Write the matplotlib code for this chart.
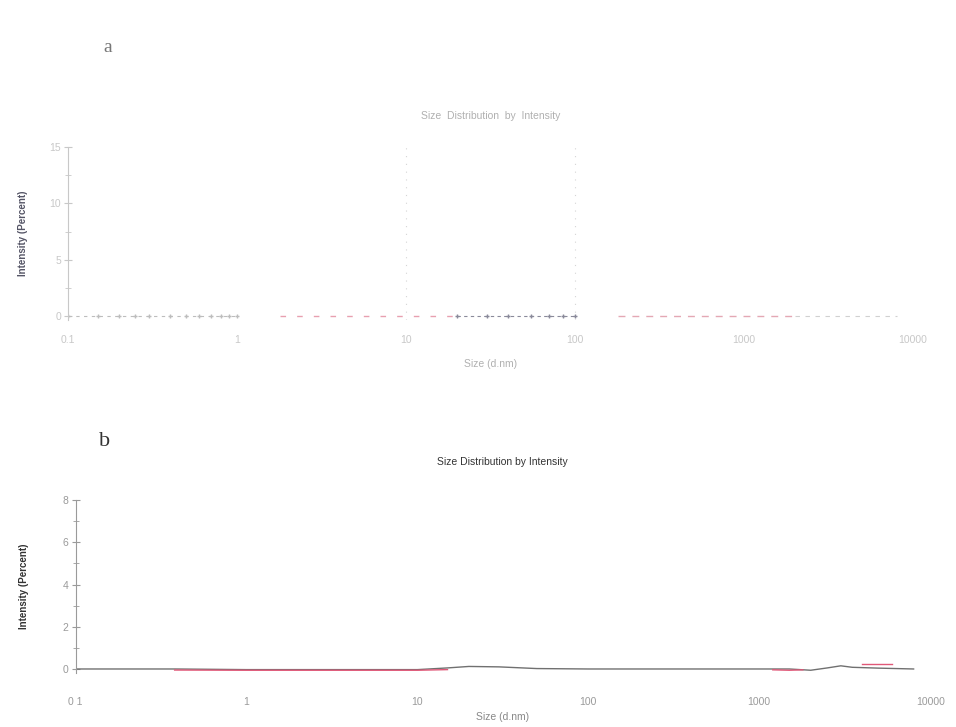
import numpy as np
import matplotlib.pyplot as plt

plt.rcParams['font.family'] = ['Liberation Sans', 'DejaVu Sans']

# panel a: measured runs, all lying on the baseline
a_dark_size = [0.1, 0.15, 0.2, 0.25, 0.3, 0.4, 0.5, 0.6, 0.7, 0.8, 0.9, 1.0]
a_dark_val = [0, 0, 0, 0, 0, 0, 0, 0, 0, 0, 0, 0]
a_red_size = [1.8, 2.5, 3.5, 5, 7, 10, 14, 20]
a_red_val = [0, 0, 0, 0, 0, 0, 0, 0]
a_mid_size = [20, 30, 40, 55, 70, 85, 100]
a_mid_val = [0, 0, 0, 0, 0, 0, 0]
a_red2_size = [180, 300, 500, 800, 1200, 2000]
a_red2_val = [0, 0, 0, 0, 0, 0]
a_gray_size = [2000, 3000, 4000, 5000, 6000, 8000]
a_gray_val = [0, 0, 0, 0, 0, 0]

# panel b
b_dark_size = [0.1, 0.2, 0.3, 0.38, 1, 10, 15, 20, 30, 50, 100, 300, 1000,
               1500, 2000, 2500, 3000, 3500, 5000, 8000]
b_dark_val = [0, 0, 0, 0, -0.03, -0.03, 0.05, 0.12, 0.1, 0.02, 0, 0, 0,
              0, -0.06, 0.05, 0.15, 0.08, 0.04, 0]
b_red_size = [0.38, 1, 5, 10, 15]
b_red_val = [-0.05, -0.06, -0.06, -0.06, -0.03]
b_red2_size = [1200, 1500, 1800]
b_red2_val = [-0.04, -0.06, -0.04]
b_red3_size = [4000, 6000]
b_red3_val = [0.25, 0.25]

xticks = [0.1, 1, 10, 100, 1000, 10000]
a_xlabels = ['0.1', '1', '10', '100', '1000', '10000']
b_xlabels = ['0 1', '1', '10', '100', '1000', '10000']

fig = plt.figure(figsize=(9.56, 7.27), dpi=100)

def style_axes(ax, color, ymax, ymajor, yminor, xpad):
    for s in ['top', 'right', 'bottom']:
        ax.spines[s].set_visible(False)
    ax.spines['left'].set_color(color)
    ax.spines['left'].set_linewidth(0.8)
    ax.set_xscale('log')
    ax.set_xlim(0.1, 10000)
    ax.set_ylim(-0.2 if ymax < 10 else -0.3, ymax)
    ax.set_yticks(ymajor)
    ax.set_yticks(yminor, minor=True)
    ax.tick_params(axis='y', which='major', direction='inout', length=6,
                   color=color, labelcolor=color, labelsize=7.5, pad=2)
    ax.tick_params(axis='y', which='minor', direction='inout', length=4,
                   color=color)
    ax.set_xticks(xticks)
    ax.xaxis.set_minor_locator(plt.NullLocator())
    ax.tick_params(axis='x', length=0, labelcolor=color, labelsize=7.5,
                   pad=xpad)

# --- panel a ---
ax1 = fig.add_axes([0.071, 0.56, 0.884, 0.238])
style_axes(ax1, '#c8c8c8', 15, [0, 5, 10, 15], [2.5, 7.5, 12.5], 11)
ax1.set_xticklabels(a_xlabels)
for x in [10, 100]:
    ax1.axvline(x, color='#d5d5d5', lw=0.8, ls=(0, (1, 6)))
ax1.plot(a_dark_size, a_dark_val, color='#bdbdbd', lw=0.8, ls=(0, (3, 4)),
         marker='+', ms=3)
ax1.plot(a_red_size, a_red_val, color='#e8a0b0', lw=1.0, ls=(0, (4, 8)))
ax1.plot(a_mid_size, a_mid_val, color='#8a8a9a', lw=0.8, ls=(0, (3, 3)),
         marker='+', ms=3)
ax1.plot(a_red2_size, a_red2_val, color='#e4a8b4', lw=1.0, ls=(0, (5, 5)))
ax1.plot(a_gray_size, a_gray_val, color='#d0d0d0', lw=0.8, ls=(0, (4, 5)))
ax1.set_title('Size  Distribution  by  Intensity', fontsize=7.5,
              color='#b0b0b0', pad=20)
ax1.set_xlabel('Size (d.nm)', fontsize=7.5, color='#b0b0b0', labelpad=10)
ax1.set_ylabel('Intensity (Percent)', fontsize=7, color='#555566',
               fontweight='bold', labelpad=15)
fig.text(0.108, 0.928, 'a', fontsize=14, family='Liberation Serif',
         color='#777777')

# --- panel b ---
ax2 = fig.add_axes([0.079, 0.074, 0.894, 0.238])
style_axes(ax2, '#9a9a9a', 8, [0, 2, 4, 6, 8], [1, 3, 5, 7], 17)
ax2.set_xticklabels(b_xlabels)
ax2.plot(b_dark_size, b_dark_val, color='#707070', lw=1.0)
ax2.plot(b_red_size, b_red_val, color='#e05878', lw=1.0)
ax2.plot(b_red2_size, b_red2_val, color='#e05878', lw=1.0)
ax2.plot(b_red3_size, b_red3_val, color='#e05878', lw=1.0)
ax2.set_title('Size Distribution by Intensity', fontsize=7.5, color='#333333',
              pad=25)
ax2.set_xlabel('Size (d.nm)', fontsize=7.5, color='#888888', labelpad=4)
ax2.set_ylabel('Intensity (Percent)', fontsize=7, color='#333333',
               fontweight='bold', labelpad=24)
fig.text(0.104, 0.387, 'b', fontsize=16, family='Liberation Serif',
         color='#333333')

fig.savefig('out.png', dpi=100)
